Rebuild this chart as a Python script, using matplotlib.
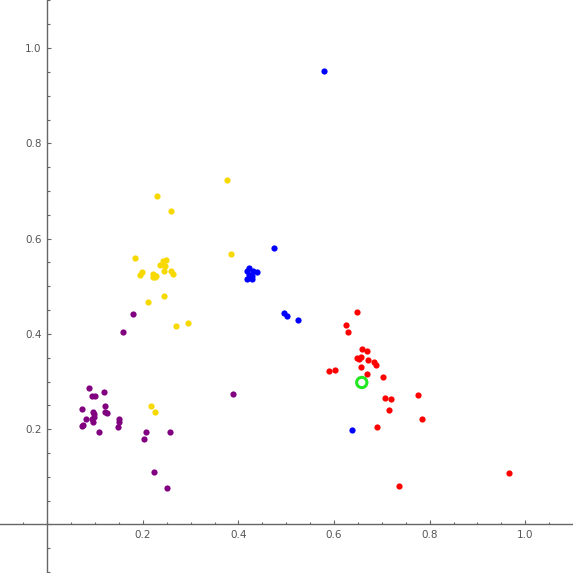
import matplotlib.pyplot as plt
from matplotlib.ticker import MultipleLocator, FuncFormatter

# purple group
purple_x = [0.088, 0.094, 0.099, 0.119, 0.072, 0.121, 0.096, 0.098, 0.120, 0.124,
            0.082, 0.094, 0.098, 0.095, 0.074, 0.072, 0.151, 0.149, 0.147, 0.108,
            0.389, 0.207, 0.202, 0.257, 0.224, 0.251, 0.180, 0.159]
purple_y = [0.286, 0.270, 0.270, 0.277, 0.242, 0.249, 0.235, 0.231, 0.236, 0.233,
            0.221, 0.221, 0.225, 0.216, 0.209, 0.207, 0.221, 0.216, 0.205, 0.195,
            0.273, 0.195, 0.179, 0.195, 0.111, 0.076, 0.441, 0.405]

# yellow group
yellow_x = [0.377, 0.230, 0.259, 0.184, 0.385, 0.243, 0.248, 0.236, 0.247, 0.245,
            0.259, 0.264, 0.198, 0.193, 0.222, 0.227, 0.221, 0.226, 0.245, 0.211,
            0.270, 0.295, 0.218, 0.226]
yellow_y = [0.723, 0.690, 0.658, 0.559, 0.567, 0.554, 0.555, 0.544, 0.543, 0.533,
            0.531, 0.526, 0.529, 0.524, 0.525, 0.522, 0.519, 0.519, 0.479, 0.466,
            0.416, 0.422, 0.249, 0.237]

# blue group
blue_x = [0.579, 0.475, 0.423, 0.418, 0.431, 0.438, 0.421, 0.428, 0.417, 0.429,
          0.495, 0.501, 0.525, 0.638]
blue_y = [0.952, 0.580, 0.539, 0.531, 0.532, 0.529, 0.524, 0.522, 0.515, 0.515,
          0.443, 0.438, 0.429, 0.198]

# red group
red_x = [0.649, 0.626, 0.629, 0.658, 0.668, 0.649, 0.656, 0.653, 0.672, 0.684,
         0.687, 0.590, 0.603, 0.656, 0.668, 0.703, 0.707, 0.720, 0.776, 0.716,
         0.785, 0.690, 0.736, 0.967]
red_y = [0.445, 0.418, 0.403, 0.368, 0.365, 0.349, 0.352, 0.347, 0.345, 0.340,
         0.334, 0.322, 0.325, 0.331, 0.315, 0.310, 0.266, 0.264, 0.272, 0.240,
         0.221, 0.204, 0.080, 0.107]

# highlighted point
ring_x = [0.658]
ring_y = [0.298]


fig = plt.figure(figsize=(5.73, 5.73), dpi=100)
ax = fig.add_axes([0, 0, 1, 1])

ax.scatter(purple_x, purple_y, s=20, color='#800080', linewidths=0)
ax.scatter(yellow_x, yellow_y, s=20, color='#f7d900', linewidths=0)
ax.scatter(blue_x, blue_y, s=20, color='#0000ff', linewidths=0)
ax.scatter(red_x, red_y, s=20, color='#ff0000', linewidths=0)
ax.scatter(ring_x, ring_y, s=55, facecolors='none', edgecolors='#22e822',
           linewidths=2.2, zorder=5)

ax.set_xlim(-0.099, 1.1)
ax.set_ylim(-0.102, 1.101)

# axes through the origin, Mathematica style
ax.spines['left'].set_position(('data', 0))
ax.spines['bottom'].set_position(('data', 0))
ax.spines['top'].set_visible(False)
ax.spines['right'].set_visible(False)
for s in ['left', 'bottom']:
    ax.spines[s].set_color('#666666')
    ax.spines[s].set_linewidth(1.0)

fmt = FuncFormatter(lambda v, p: '' if abs(v) < 1e-9 else '%.1f' % v)
for axis in [ax.xaxis, ax.yaxis]:
    axis.set_major_locator(MultipleLocator(0.2))
    axis.set_minor_locator(MultipleLocator(0.05))
    axis.set_major_formatter(fmt)

ax.tick_params(which='major', direction='in', length=3.2, width=0.8,
               color='#666666', labelsize=7.5, labelcolor='#555555', pad=4)
ax.tick_params(which='minor', direction='in', length=1.8, width=0.8,
               color='#666666')
ax.patch.set_alpha(0)

fig.savefig('out.png', dpi=100, facecolor='white')
